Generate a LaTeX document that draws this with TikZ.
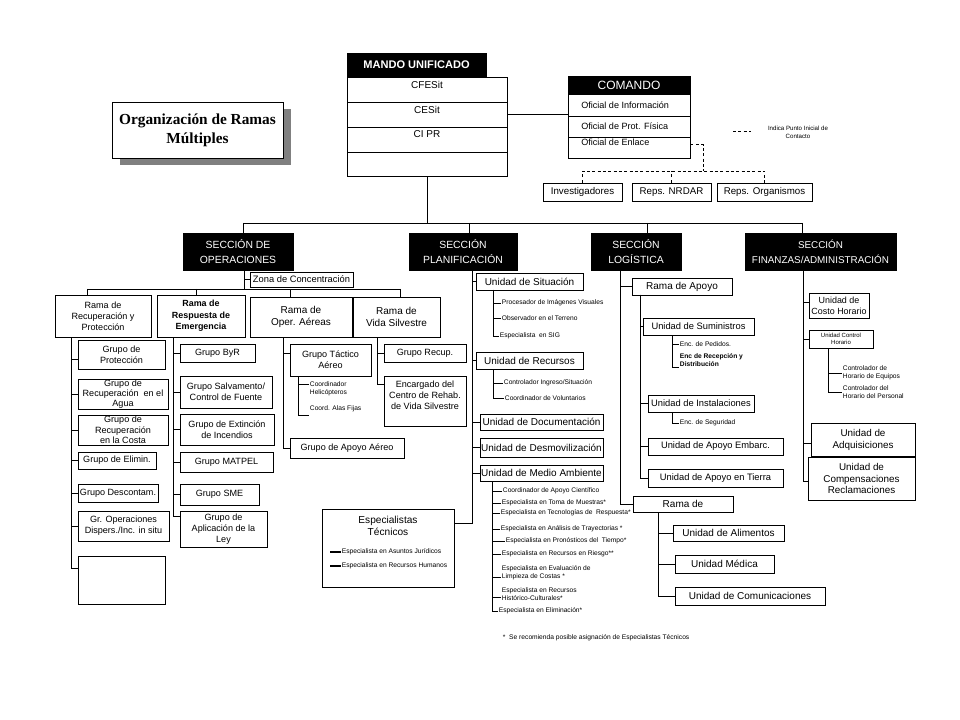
\documentclass[tikz,border=0pt]{standalone}
\usepackage{fontspec}
\setmainfont{Liberation Sans}
\newfontfamily\titlefont{Liberation Serif}
\newcommand\fsz[2]{\fontsize{#1}{#2}\selectfont}

\tikzset{
  boxat/.style n args={4}{minimum width={(#3-#1)*0.75pt}, minimum height={(#4-#2)*0.75pt},
    at={({(#1+#3)/2},{(#2+#4)/2})}},
  box/.style={draw, fill=white, inner sep=0pt, line width=0.7pt, align=center},
  blackbox/.style={draw, fill=black, text=white, inner sep=0pt, align=center},
  sect/.style={blackbox, font=\fsz{7.8}{11}},
  grp/.style={box, font=\fsz{6.8}{8.3}},
  unit/.style={box, font=\fsz{7.5}{9}},
  row/.style={anchor=north, inner sep=3pt, font=\fsz{7.5}{9}},
  oftxt/.style={anchor=west, inner sep=0pt, font=\fsz{6.8}{8}},
  leaf/.style={anchor=west, inner sep=0.5pt, align=left, font=\fsz{5}{6}},
  link/.style={line width=0.7pt},
  contact/.style={line width=0.7pt, dash pattern=on 2.2pt off 1.8pt},
}

\begin{document}
\begin{tikzpicture}[x=0.75pt,y=-0.75pt]
\useasboundingbox (0,0) rectangle (960,720);

% titulo
\fill[black!50] (120,109) rectangle (291,165);
\node[box, boxat={112}{102}{283}{158}, font=\titlefont\bfseries\fsz{11.5}{14}] (titulo) {Organización de Ramas\\Múltiples};

% mando unificado
\node[blackbox, boxat={347}{53}{486}{77}, font=\bfseries\fsz{8.3}{10}] (mando) {MANDO UNIFICADO};
\node[box, boxat={347}{77}{507}{102}, label={[row]north:CFESit}] (cfesit) {};
\node[box, boxat={347}{102}{507}{127}, label={[row]north:CESit}] (cesit) {};
\node[box, boxat={347}{127}{507}{152}, label={[row]north:CI PR}] (cipr) {};
\node[box, boxat={347}{152}{507}{176}] (mvacio) {};

% comando
\node[blackbox, boxat={568}{76}{690}{94}, font=\fsz{9}{10}] (comando) {COMANDO};
\node[box, boxat={568}{94}{690}{116}] (ofinfo) {};
\node[box, boxat={568}{116}{690}{137}] (ofprot) {};
\node[box, boxat={568}{137}{690}{158}] (ofenl) {};
\node[oftxt] (ofinfot) at (581,105) {Oficial de Información};
\node[oftxt] (ofprott) at (581,126) {Oficial de Prot. Física};
\node[oftxt] (ofenlt) at (581,142) {Oficial de Enlace};
\draw[link] (cesit.east) -- (cesit.east -| ofinfo.west);

% contacto
\node[box, boxat={543}{183}{622}{201}, font=\fsz{7.3}{9}] (invest) {Investigadores};
\node[box, boxat={632}{183}{711}{201}, font=\fsz{7.3}{9}] (repnrdar) {Reps. NRDAR};
\node[box, boxat={717}{183}{812}{201}, font=\fsz{7.3}{9}] (reporg) {Reps. Organismos};
\coordinate (cpt) at (703,171);
\draw[contact] ([yshift=2.25pt]ofenl.east) -| (cpt);
\draw[contact] (invest.north) |- (cpt) -| (reporg.north);
\draw[contact] (repnrdar.north) -- (repnrdar.north |- cpt);

% leyenda
\coordinate (lgA) at (733,131);
\coordinate (lgB) at (751,131);
\draw[contact] (lgA) -- (lgB);
\node[font=\fsz{4.6}{6}, align=center] (leyenda) at (798,132) {Indica Punto Inicial de\\Contacto};

% secciones
\node[sect, boxat={183}{233}{293}{270}] (ops) {SECCIÓN DE\\OPERACIONES};
\node[sect, boxat={409}{233}{517}{270}] (plan) {SECCIÓN\\PLANIFICACIÓN};
\node[sect, boxat={591}{233}{681}{270}] (log) {SECCIÓN\\LOGÍSTICA};
\node[sect, boxat={745}{233}{896}{270}, font=\fsz{7.4}{11}] (fin) {SECCIÓN\\FINANZAS/ADMINISTRACIÓN};
\coordinate (bops) at (243,223);
\coordinate (bplan) at (469,223);
\coordinate (blog) at (647,223);
\coordinate (bfin) at (802,223);
\draw[link] (mvacio.south) -- (mvacio.south |- bops);
\draw[link] (bops) -- (bfin);
\foreach \c/\n in {bops/ops, bplan/plan, blog/log, bfin/fin}
  \draw[link] (\c) -- (\c |- \n.north);

% operaciones
\node[box, boxat={250}{272}{353}{287}, font=\fsz{7}{8}] (zona) {Zona de Concentración};
\coordinate (rbus) at (244,289);
\draw[link] (ops.south -| rbus) -- (rbus);
\draw[link] (ops.south -| rbus) |- (zona.west);
\node[grp, boxat={55}{295}{151}{337}] (rrp) {Rama de\\Recuperación y\\Protección};
\node[grp, boxat={157}{295}{245}{337}, font=\bfseries\fsz{6.7}{8.5}] (rre) {Rama de\\Respuesta de\\Emergencia};
\node[grp, boxat={250}{297}{352}{337}, font=\fsz{7.5}{9}] (roa) {Rama de\\Oper. Aéreas};
\node[grp, boxat={353}{297}{440}{337}, font=\fsz{7.5}{9}] (rvs) {Rama de\\Vida Silvestre};
\coordinate (rb1) at (87,289);
\coordinate (rb2) at (196,289);
\coordinate (rb3) at (290,289);
\coordinate (rb4) at (400,289);
\draw[link] (rb1) -- (rb4);
\foreach \c/\n in {rb1/rrp, rb2/rre, rb3/roa, rb4/rvs}
  \draw[link] (\c) -- (\c |- \n.north);

% rama de recuperacion y proteccion
\node[grp, boxat={78}{340}{165}{369}] (gprot) {Grupo de\\Protección};
\node[grp, boxat={78}{379}{168}{409}, font=\fsz{6.8}{7.6}] (gagua) {Grupo de\\Recuperación~ en el\\Agua};
\node[grp, boxat={78}{415}{168}{445}, font=\fsz{6.8}{7.8}] (gcosta) {Grupo de\\Recuperación\\en la Costa};
\node[grp, boxat={78}{452}{156}{469}] (gelim) {Grupo de Elimin.};
\node[grp, boxat={78}{484}{158}{502}] (gdesc) {Grupo Descontam.};
\node[grp, boxat={78}{511}{169}{541}] (gdisp) {Gr. Operaciones\\Dispers./Inc. in situ};
\node[grp, boxat={78}{556}{165}{604}] (gvacio) {};
\coordinate (t1) at (71,337);
\foreach \n/\s in {gprot/-4pt, gagua/0pt, gcosta/0pt, gelim/0pt, gdesc/0pt, gdisp/0pt, gvacio/9pt}
  \draw[link] (t1) |- ([yshift=\s]\n.west);

% rama de respuesta de emergencia
\node[grp, boxat={180}{344}{255}{362}] (gbyr) {Grupo ByR};
\node[grp, boxat={180}{376}{272}{408}] (gsalv) {Grupo Salvamento/\\Control de Fuente};
\node[grp, boxat={180}{414}{274}{445}] (gext) {Grupo de Extinción\\de Incendios};
\node[grp, boxat={180}{452}{273}{472}] (gmat) {Grupo MATPEL};
\node[grp, boxat={180}{484}{259}{505}] (gsme) {Grupo SME};
\node[grp, boxat={180}{511}{267}{547}] (gley) {Grupo de\\Aplicación de la\\Ley};
\coordinate (t2) at (173,337);
\foreach \n/\s in {gbyr/0pt, gsalv/0pt, gext/0pt, gmat/0pt, gsme/0pt, gley/9.75pt}
  \draw[link] (t2) |- ([yshift=\s]\n.west);

% rama de operaciones aereas
\node[grp, boxat={290}{344}{371}{376}] (gtact) {Grupo Táctico\\Aéreo};
\node[grp, boxat={290}{438}{404}{458}] (gapoyo) {Grupo de Apoyo Aéreo};
\coordinate (t3) at (283,337);
\draw[link] (t3) |- ([yshift=5pt]gtact.west);
\draw[link] (t3) |- (gapoyo.west);
\node[leaf] (cheli) at (309,389) {Coordinador\\Helicópteros};
\node[leaf] (calas) at (309,409) {Coord. Alas Fijas};
\coordinate (t3a) at (298,376);
\draw[link] (t3a) |- ([yshift=3.75pt]cheli.west);
\draw[link] (t3a) |- ([yshift=-4.5pt]calas.west);

% rama de vida silvestre
\node[grp, boxat={384}{344}{466}{362}] (grecup) {Grupo Recup.};
\node[grp, boxat={384}{376}{466}{426}, text depth=9pt] (gcentro) {Encargado del\\Centro de Rehab.\\de Vida Silvestre};
\coordinate (t4) at (377,337);
\draw[link] (t4) |- (grecup.west);
\draw[link] (t4) |- ([yshift=12.75pt]gcentro.west);

% planificacion
\node[unit, boxat={476}{273}{583}{290}] (usit) {Unidad de Situación};
\node[unit, boxat={476}{352}{583}{369}] (urec) {Unidad de Recursos};
\node[unit, boxat={480}{414}{603}{430}] (udoc) {Unidad de Documentación};
\node[unit, boxat={480}{438}{603}{457}] (udesm) {Unidad de Desmovilización};
\node[unit, boxat={480}{465}{603}{481}] (uma) {Unidad de Medio Ambiente};
\node[box, boxat={322}{509}{454}{587}] (esptec) {};
\coordinate (t5) at (472,270);
\foreach \n in {usit, urec, udoc, udesm, uma}
  \draw[link] (t5) |- (\n.west);
\draw[link] (t5) |- ([yshift=18.75pt]esptec.east);

\node[leaf] (lproc) at (501,303) {Procesador de Imágenes Visuales};
\node[leaf] (lobs) at (501,318) {Observador en el Terreno};
\node[leaf] (lsig) at (499,336) {Especialista~ en SIG};
\coordinate (t5a) at (493,290);
\foreach \n in {lproc, lobs, lsig}
  \draw[link] (t5a) |- (\n.west);

\node[leaf] (lctrl) at (503,383) {Controlador Ingreso/Situación};
\node[leaf] (lvol) at (504,398) {Coordinador de Voluntarios};
\coordinate (t5b) at (493,369);
\foreach \n in {lctrl, lvol}
  \draw[link] (t5b) |- (\n.west);

\node[leaf] (m1) at (502,491) {Coordinador de Apoyo Científico};
\node[leaf] (m2) at (501,503) {Especialista en Toma de Muestras*};
\node[leaf] (m3) at (500,513) {Especialista en Tecnologías de~ Respuesta*};
\node[leaf] (m4) at (500,529) {Especialista en Análisis de Trayectorias *};
\node[leaf] (m5) at (505,541) {Especialista en Pronósticos del~ Tiempo*};
\node[leaf] (m6) at (501,554) {Especialista en Recursos en Riesgo**};
\node[leaf] (m7) at (501,573) {Especialista en Evaluación de\\Limpieza de Costas *};
\node[leaf] (m8) at (501,594) {Especialista en Recursos\\Histórico-Culturales*};
\node[leaf] (m9) at (498,611) {Especialista en Eliminación*};
\coordinate (t5c) at (492,481);
\foreach \n/\s in {m1/0pt, m2/0pt, m3/0pt, m4/0pt, m5/0pt, m6/0pt, m7/-3pt, m8/-2.25pt, m9/0pt}
  \draw[link] (t5c) |- ([yshift=\s]\n.west);
\node[leaf] (nota) at (502,638) {*~ Se recomienda posible asignación de Especialistas Técnicos};

% especialistas tecnicos
\node[font=\fsz{7.6}{9}, align=center] (esptect) at (388,526) {Especialistas\\Técnicos};
\node[leaf] (ejur) at (341,552) {Especialista en Asuntos Jurídicos};
\node[leaf] (erh) at (341,566) {Especialista en Recursos Humanos};
\coordinate (d1) at (330,552);
\coordinate (d2) at (330,566);
\draw[line width=0.9pt] (d1) -- (ejur.west);
\draw[line width=0.9pt] (d2) -- (erh.west);

% logistica
\node[unit, boxat={632}{278}{732}{295}] (rapoyo) {Rama de Apoyo};
\node[unit, boxat={633}{496}{733}{512}] (rama2) {Rama de};
\coordinate (t6) at (620,270);
\draw[link] (t6) |- (rapoyo.west);
\draw[link] (t6) |- (rama2.west);

\node[box, boxat={643}{318}{754}{335}, font=\fsz{7}{8}] (usum) {Unidad de Suministros};
\node[box, boxat={648}{395}{754}{412}, font=\fsz{7}{8}] (uinst) {Unidad de Instalaciones};
\node[box, boxat={648}{438}{783}{455}, font=\fsz{7}{8}] (uemb) {Unidad de Apoyo Embarc.};
\node[box, boxat={648}{469}{783}{487}, font=\fsz{7}{8}] (utierra) {Unidad de Apoyo en Tierra};
\coordinate (t7) at (640,295);
\foreach \n in {usum, uinst, uemb, utierra}
  \draw[link] (t7) |- (\n.west);

\node[leaf] (lped) at (679,344) {Enc. de Pedidos.};
\node[leaf, font=\bfseries\fsz{5}{6.2}] (lrecep) at (679,360) {Enc de Recepción y\\Distribución};
\coordinate (t8) at (672,335);
\draw[link] (t8) |- (lped.west);
\draw[link] (t8) |- ([yshift=-5.25pt]lrecep.west);
\node[leaf] (lseg) at (679,423) {Enc. de Seguridad};
\coordinate (t9) at (672,412);
\draw[link] (t9) |- (lseg.west);

\node[unit, boxat={673}{525}{784}{541}] (ualim) {Unidad de Alimentos};
\node[unit, boxat={675}{555}{774}{573}] (umed) {Unidad Médica};
\node[unit, boxat={675}{587}{825}{605}] (ucom) {Unidad de Comunicaciones};
\coordinate (t10) at (658,512);
\foreach \n in {ualim, umed, ucom}
  \draw[link] (t10) |- (\n.west);

% finanzas
\node[box, boxat={809}{293}{869}{318}, font=\fsz{6.7}{8.3}] (ucosto) {Unidad de\\Costo Horario};
\node[box, boxat={809}{330}{873}{348}, font=\fsz{4.5}{5.5}] (uctrl) {Unidad Control\\Horario};
\node[box, boxat={811}{423}{915}{456}, font=\fsz{7.4}{9}] (uadq) {Unidad de\\Adquisiciones};
\node[box, boxat={808}{457}{915}{500}, font=\fsz{7.4}{8.6}] (ucomp) {Unidad de\\Compensaciones\\Reclamaciones};
\coordinate (t11) at (803,270);
\foreach \n/\s in {ucosto/1.9pt, uctrl/0pt, uadq/-2.6pt, ucomp/-1.9pt}
  \draw[link] (t11) |- ([yshift=\s]\n.west);

\node[leaf] (lequ) at (842,373) {Controlador de\\Horario de Equipos};
\node[leaf] (lper) at (842,392) {Controlador del\\Horario del Personal};
\coordinate (t12) at (828,348);
\draw[link] (t12) |- (lequ.west);
\draw[link] (t12) |- (lper.west);

\end{tikzpicture}
\end{document}
